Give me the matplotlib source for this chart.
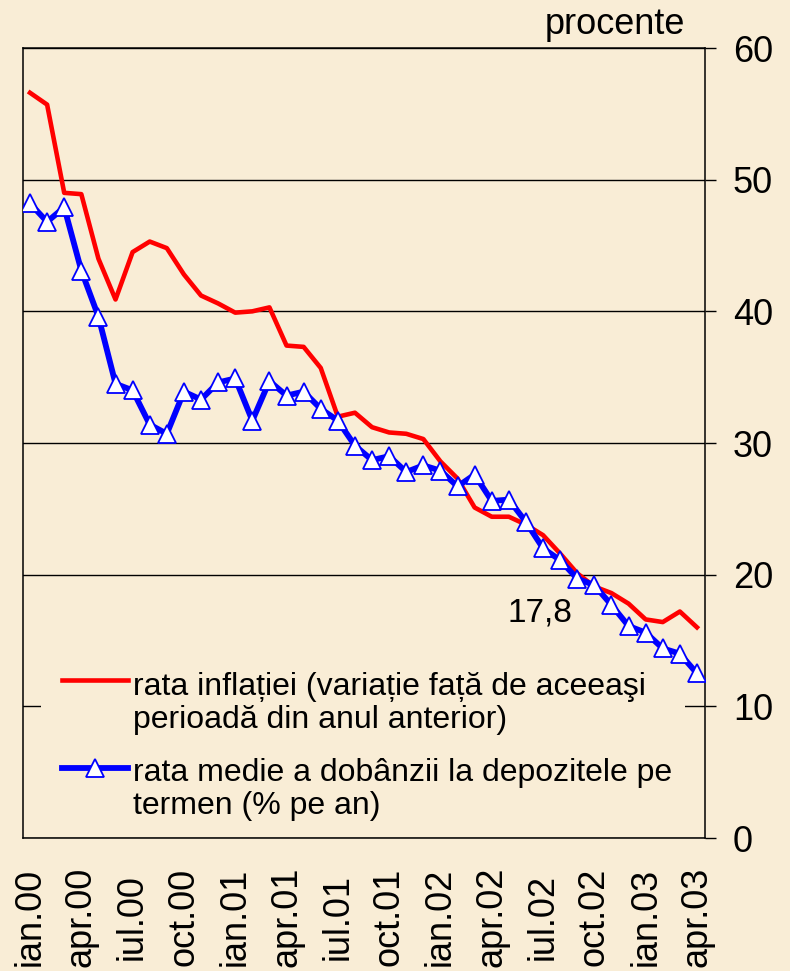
"""Rata inflatiei vs. rata medie a dobanzii la depozitele pe termen (ian.00 - apr.03)."""

import matplotlib

matplotlib.use("Agg")
import matplotlib.pyplot as plt
from matplotlib.lines import Line2D
from matplotlib.patches import Rectangle

plt.rcParams["font.family"] = ["Liberation Sans", "DejaVu Sans"]

_BG = "#F9EDD6"
_RED = "#FF0000"
_BLUE = "#0000FF"

# Date lunare ian.00 ... apr.03 (40 luni)
inflation = [
    56.6, 55.7, 49.0, 48.9, 44.0, 40.9, 44.5, 45.3, 44.8, 42.8,
    41.2, 40.6, 39.9, 40.0, 40.3, 37.4, 37.3, 35.7, 32.0, 32.3,
    31.2, 30.8, 30.7, 30.3, 28.6, 27.3, 25.1, 24.4, 24.4, 23.8,
    23.0, 21.6, 20.1, 19.1, 18.6, 17.8, 16.6, 16.4, 17.2, 16.0,
]
deposit_rate = [
    48.2, 46.8, 47.9, 43.1, 39.6, 34.5, 34.0, 31.4, 30.7, 33.9,
    33.3, 34.6, 34.9, 31.7, 34.7, 33.6, 33.9, 32.6, 31.7, 29.8,
    28.7, 29.0, 27.8, 28.3, 27.9, 26.7, 27.6, 25.6, 25.7, 24.0,
    22.0, 21.1, 19.7, 19.2, 17.7, 16.1, 15.6, 14.4, 14.0, 12.5,
]
tick_labels = [
    "ian.00", "apr.00", "iul.00", "oct.00", "ian.01", "apr.01", "iul.01",
    "oct.01", "ian.02", "apr.02", "iul.02", "oct.02", "ian.03", "apr.03",
]
y_ticks = [0, 10, 20, 30, 40, 50, 60]
label_infl = "rata inflației (variație față de aceeaşi\nperioadă din anul anterior)"
label_dep = "rata medie a dobânzii la depozitele pe\ntermen (% pe an)"
dec02_index = 35  # 17,8 (dec.02)

x = list(range(len(inflation)))

fig = plt.figure(figsize=(7.9, 9.71), dpi=100, facecolor=_BG)
ax = fig.add_axes([23 / 790, 133 / 971, 682 / 790, 790 / 971])
ax.set_facecolor(_BG)

ax.plot(x, inflation, color=_RED, lw=3.3, zorder=3)
ax.plot(
    x, deposit_rate, color=_BLUE, lw=4.2, zorder=4,
    marker="^", ms=13.5, mfc="white", mec=_BLUE, mew=1.3,
)

ax.set_xlim(-0.41, 39.47)
ax.set_ylim(0, 60)

ax.set_axisbelow(True)
ax.grid(axis="y", color="black", lw=1.0, zorder=0.5)
ax.grid(axis="x", visible=False)
for sp in ax.spines.values():
    sp.set_color("black")
    sp.set_linewidth(1.1)

ax.yaxis.tick_right()
ax.set_yticks(y_ticks)
ax.tick_params(axis="y", direction="out", length=8, width=1, labelsize=26, pad=12)

ax.set_xticks(x[::3])
ax.set_xticklabels(tick_labels, rotation=90, va="center")
ax.tick_params(axis="x", length=0, labelsize=26, pad=57)

# legenda (fundal care acoperă grila de la 10)
ax.add_patch(Rectangle((0.0264, 0.004), 0.944, 0.234, transform=ax.transAxes,
                       facecolor=_BG, edgecolor="none", zorder=1))
ax.add_line(Line2D([0.057, 0.154], [0.2, 0.2], transform=ax.transAxes,
                   color=_RED, lw=3.3, zorder=5))
ax.add_line(Line2D([0.057, 0.1055, 0.154], [0.0886, 0.0886, 0.0886], transform=ax.transAxes,
                   color=_BLUE, lw=4.2, marker="^", markevery=[1], ms=13,
                   mfc="white", mec=_BLUE, mew=1.3, zorder=5))
ax.text(0.161, 0.2106, label_infl, transform=ax.transAxes, fontsize=23,
        va="top", ha="left", linespacing=1.14, zorder=5)
ax.text(0.161, 0.1013, label_dep, transform=ax.transAxes, fontsize=23,
        va="top", ha="left", linespacing=1.14, zorder=5)

ax.annotate("17,8", xy=(dec02_index, inflation[dec02_index]), xytext=(-64, -13),
            textcoords="offset points", ha="center", va="baseline", fontsize=24)

fig.text(685 / 790, 1 - 34 / 971, "procente", ha="right", va="baseline", fontsize=26)

fig.savefig("out.png", dpi=100, facecolor=_BG)
plt.close(fig)
